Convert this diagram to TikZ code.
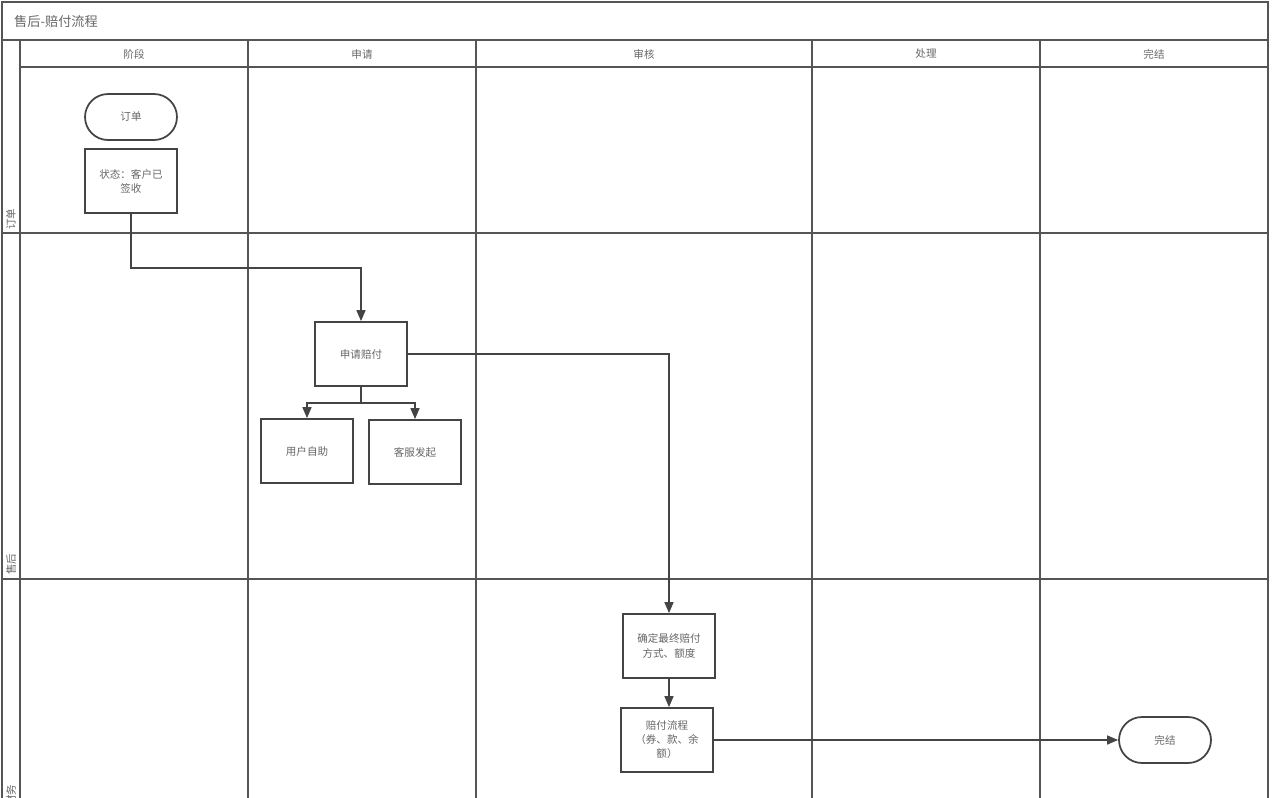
\documentclass[tikz,border=0pt]{standalone}
\usepackage{fontspec}
\setmainfont{Noto Sans CJK SC}
\usetikzlibrary{arrows.meta,positioning}
\definecolor{Frame}{HTML}{555555}
\definecolor{Ink}{HTML}{444444}
\definecolor{Txt}{HTML}{666666}

\begin{document}
\begin{tikzpicture}[x=0.02cm,y=-0.02cm,
    lane/.style={draw=Frame,line width=0.8pt},
    box/.style={draw=Ink,line width=1pt,fill=white,minimum width=1.84cm,
      minimum height=1.28cm,align=center,font=\fontsize{6}{8}\selectfont,text=Txt},
    term/.style={box,rounded corners=0.46cm,minimum height=0.92cm},
    hdr/.style={font=\fontsize{6}{8}\selectfont,text=Txt},
    rowlbl/.style={font=\fontsize{6}{7}\selectfont,text=Txt,rotate=90,anchor=west,inner sep=1pt},
    arr/.style={-{Triangle[length=2.2mm,width=1.8mm]},line width=0.9pt,Ink}
  ]
    \useasboundingbox (0,0) rectangle (1276,798);
    \clip (0,0) rectangle (1276,798);
    % swimlane frame
    \draw[lane,line width=1.2pt] (2,2) rectangle (1268,830);
    \draw[lane] (2,40) -- (1268,40);
    \draw[lane] (20,40) -- (20,830);
    \draw[lane] (20,67) -- (1268,67);
    \draw[lane] (2,233) -- (1268,233);
    \draw[lane] (2,579) -- (1268,579);
    \node[anchor=west,font=\fontsize{7.5}{9}\selectfont,text=Txt] (title) at (8,21) {售后-赔付流程};
    \foreach \xa/\xb/\txt in {20/248/阶段,248/476/申请,476/812/审核,812/1040/处理,1040/1268/完结}{
      \draw[lane] (\xb,40) -- (\xb,830);
      \node[hdr] (h\txt) at ({(\xa+\xb)/2},54) {\txt};
    }
    \node[rowlbl] (r1) at (11,232) {订单};
    \node[rowlbl] (r2) at (11,577) {售后};
    \node[rowlbl] (r3) at (11,808) {财务};

    % nodes
    \node[term] (order) at (131,117) {订单};
    \node[box] (state) at (131,181) {状态：客户已\\签收};
    \node[box] (apply) at (361,354) {申请赔付};
    \node[box] (self) at (307,451) {用户自助};
    \node[box] (cs) at (415,452) {客服发起};
    \node[box] (decide) at (669,646) {确定最终赔付\\方式、额度};
    \node[box] (pay) at (667,740) {赔付流程\\（券、款、余\\额）};
    \node[term] (done) at (1165,740) {完结};

    % connectors
    \draw[arr] (state.south) |- (361,268) -- (apply.north);
    \draw[arr] (apply.south) -- (361,403) -| (self.north);
    \draw[arr] (361,403) -| (cs.north);
    \draw[arr] (apply.east) -| (decide.north);
    \draw[arr] (decide.south) -- (decide.south |- pay.north);
    \draw[arr] (pay.east) -- (done.west);
  \end{tikzpicture}
\end{document}
